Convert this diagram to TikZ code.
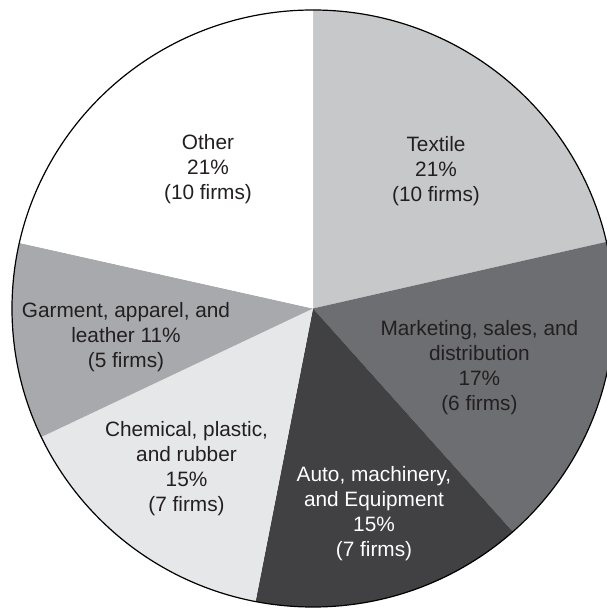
\documentclass[tikz,border=0pt]{standalone}
\usepackage{fontspec}
\setmainfont{Liberation Sans}
\definecolor{txt}{HTML}{231F20}
\definecolor{ctextile}{HTML}{C7C8CA}
\definecolor{cmarket}{HTML}{6D6E71}
\definecolor{cauto}{HTML}{414042}
\definecolor{cchem}{HTML}{E6E7E8}
\definecolor{cgarm}{HTML}{A7A9AC}
\definecolor{cother}{HTML}{FFFFFF}
\tikzset{
  lbl/.style={align=center, inner sep=0pt, text=txt, font=\fontsize{20.8}{25}\selectfont},
  lblw/.style={lbl, text=white},
  rad/.style={x radius=301pt, y radius=298.5pt}
}
\newcommand{\slice}[3]{%
  \fill[#1] (C) -- ++(#2:301pt and 298.5pt) arc[start angle=#2, end angle=#3, rad] -- cycle;}
\begin{document}
\begin{tikzpicture}[x=1pt,y=1pt]
\useasboundingbox (0,0) rectangle (607,608);
\fill[white] (0,0) rectangle (607,608);
\coordinate (C) at (313,299.5);
\slice{ctextile}{90}{12.9}
\slice{cmarket}{12.9}{-48.4}
\slice{cauto}{-48.4}{-101}
\slice{cchem}{-101}{-154.5}
\slice{cgarm}{-154.5}{-192.7}
\slice{cother}{167.3}{90}
\draw[line width=1.2pt, black] (C) ellipse [rad];
\node[lbl] (textile) at (436,436.6) {Textile\\21\%\\(10 firms)};
\node[lbl] (other) at (208,439.3) {Other\\21\%\\(10 firms)};
\node[lbl] (market) at (479.4,240.8) {Marketing, sales, and\\distribution\\17\%\\(6 firms)};
\node[lblw] (auto) at (374,94.1) {Auto, machinery,\\and Equipment\\15\%\\(7 firms)};
\node[lbl] (chem) at (186.5,139.8) {Chemical, plastic,\\and rubber\\15\%\\(7 firms)};
\node[lbl] (garm) at (126,271.3) {Garment, apparel, and\\leather 11\%\\(5 firms)};
\end{tikzpicture}
\end{document}
